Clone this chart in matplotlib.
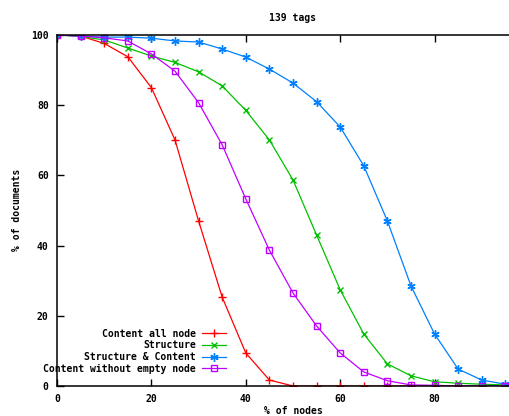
import matplotlib
matplotlib.use('Agg')
import matplotlib.pyplot as plt

x_nodes = list(range(0, 101, 5))

content_all = [100, 99.7, 97.6, 93.8, 85.0, 70.1, 47.0, 25.3, 9.4, 1.7, 0,
               0, 0, 0, 0, 0, 0, 0, 0, 0, 0]
structure = [100, 99.6, 98.6, 96.3, 94.0, 92.2, 89.5, 85.5, 78.5, 70.1, 58.7,
             43.0, 27.4, 14.8, 6.3, 2.9, 1.2, 0.8, 0.5, 0.3, 0.1]
struct_content = [100, 99.7, 99.4, 99.4, 99.1, 98.3, 98.0, 96.0, 93.7, 90.3, 86.3,
                  81.0, 73.8, 62.7, 47.0, 28.5, 14.8, 4.8, 1.7, 0.5, 0.3]
content_nonempty = [100, 99.7, 99.2, 98.3, 94.6, 89.7, 80.7, 68.7, 53.3, 38.7, 26.5,
                    17.1, 9.4, 4.0, 1.5, 0.3, 0.2, 0, 0, 0, 0]

labels = ['Content all node', 'Structure', 'Structure & Content',
          'Content without empty node']
xtick_labels = ['0', '20', '40', '60', '80', '']  # 100 falls outside the image
title = '139 tags'
xlabel = '% of nodes'
ylabel = '% of documents'

font = {'family': 'DejaVu Sans Mono', 'weight': 'bold', 'size': 7}

fig = plt.figure(figsize=(5.10, 4.16), dpi=100)
# the plot area runs past the right edge of the image, as in the original
ax = fig.add_axes([57 / 510, 30 / 416, 472 / 510, 351 / 416])

ax.plot(x_nodes, content_all, color='#ff0000', lw=0.9, marker='+', ms=6, mew=1,
        label=labels[0])
ax.plot(x_nodes, structure, color='#00c000', lw=0.9, marker='x', ms=5, mew=1,
        label=labels[1])
ax.plot(x_nodes, struct_content, color='#0080ff', lw=0.9, marker=(6, 2, 0), ms=6,
        mew=1, label=labels[2])
ax.plot(x_nodes, content_nonempty, color='#c000ff', lw=0.9, marker='s', ms=5,
        mew=1, mfc='none', label=labels[3])

ax.set_xlim(0, 100)
ax.set_ylim(0, 100)
ax.set_xticks(range(0, 101, 20))
ax.set_xticklabels(xtick_labels)
ax.set_yticks(range(0, 101, 20))
ax.tick_params(direction='in', length=5, width=1, top=True, right=True, pad=6)
for lbl in ax.get_xticklabels() + ax.get_yticklabels():
    lbl.set_fontfamily(font['family'])
    lbl.set_fontweight(font['weight'])
    lbl.set_fontsize(font['size'])
for sp in ax.spines.values():
    sp.set_linewidth(1.1)

leg = ax.legend(loc='lower right', bbox_to_anchor=(0.358, 0.035), frameon=False,
                markerfirst=False, handlelength=2.5, handletextpad=0.6,
                labelspacing=0.17, borderpad=0, borderaxespad=0,
                prop=font)

fig.text(293 / 510, 1 - 18 / 416, title, ha='center', va='center', **font)
fig.text(293 / 510, 1 - 411 / 416, xlabel, ha='center', va='center', **font)
fig.text(17 / 510, 1 - 210 / 416, ylabel, ha='center', va='center',
         rotation=90, **font)

fig.savefig('out.png', dpi=100)
